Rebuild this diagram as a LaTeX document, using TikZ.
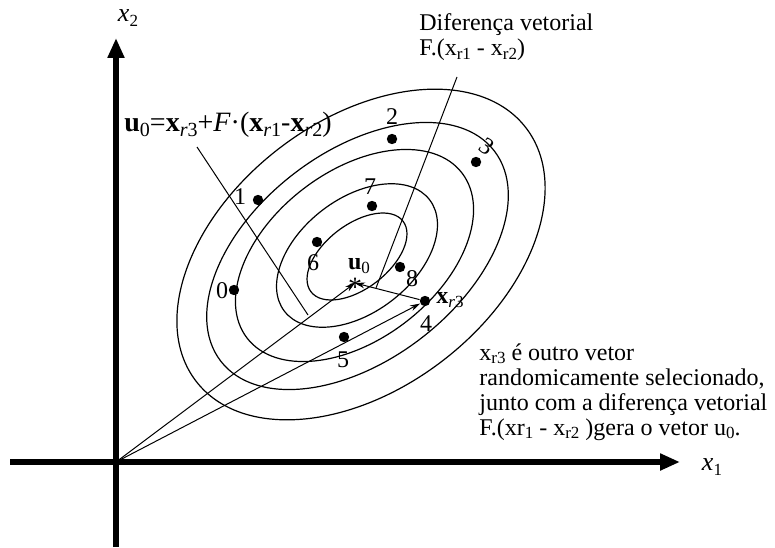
\documentclass[tikz,border=0pt]{standalone}
\usepackage{fontspec}
\setmainfont{Liberation Serif}
\usetikzlibrary{arrows.meta}
\newcommand\sbx[1]{\raisebox{-0.35ex}{\fontsize{8.5}{8.5}\selectfont #1}}
\newcommand\sbf[1]{\raisebox{-0.35ex}{\fontsize{10}{10}\selectfont #1}}
\begin{document}
\begin{tikzpicture}[x=0.5pt,y=0.5pt,
  axisline/.style={line width=2.6pt,-{Triangle[length=10pt,width=8pt]}},
  ell/.style={line width=0.6pt},
  thin/.style={line width=0.5pt},
  vec/.style={line width=0.5pt,-{Stealth[length=5pt,width=3pt]}},
  dotnode/.style={circle,fill=black,inner sep=0pt,minimum size=5.2pt},
  lbl/.style={font=\fontsize{12}{12}\selectfont,inner sep=0pt},
  txt/.style={font=\fontsize{12}{12.5}\selectfont,inner sep=0pt}]
\useasboundingbox (0,0) rectangle (775,547);
% axes
\coordinate (O) at (116,85);
\coordinate (axbot) at (116,0);
\coordinate (axtop) at (116,509);
\coordinate (axleft) at (10,85);
\coordinate (axright) at (680,85);
\draw[axisline] (axbot) -- (axtop);
\draw[axisline] (axleft) -- (axright);
\node[lbl,font=\fontsize{13}{13}\selectfont] (x2lab) at (128,529) {\textit{x}\sbx{2}};
\node[lbl,font=\fontsize{13}{13}\selectfont] (x1lab) at (712,80) {\textit{x}\sbx{1}};
% contour ellipses
\foreach \cx/\cy/\a/\b in {361/292.5/208/134, 357.5/291/172.5/104, 354.5/291.5/135.5/84, 357/291.5/91.5/57, 357/290.5/58/32}{
  \draw[ell,rotate around={37.5:(\cx,\cy)}] (\cx,\cy) ellipse [x radius=\a, y radius=\b];
}
% points
\node[dotnode] (p0) at (234,257) {};
\node[lbl] (l0) at (222,256) {0};
\node[dotnode] (p1) at (258,347) {};
\node[lbl] (l1) at (240,350) {1};
\node[dotnode] (p2) at (392,408) {};
\node[lbl] (l2) at (392,430) {2};
\node[dotnode] (p3) at (476,385) {};
\node[lbl,rotate=-35] (l3) at (487,400) {3};
\node[dotnode] (xr3) at (425,246) {};
\node[lbl] (l4) at (426,223) {4};
\node[lbl,anchor=west] (lxr3) at (436,247) {\textbf{x}\sbx{\textit{r}3}};
\node[dotnode] (p5) at (344,210) {};
\node[lbl] (l5) at (343,187) {5};
\node[dotnode] (p6) at (317,305) {};
\node[lbl] (l6) at (313,284) {6};
\node[dotnode] (p7) at (372,341) {};
\node[lbl] (l7) at (370,360) {7};
\node[dotnode] (p8) at (400,280) {};
\node[lbl] (l8) at (412,268) {8};
% u0
\coordinate (u0) at (355,264);
\node[lbl,font=\fontsize{14}{14}\selectfont] (star) at (355,260) {*};
\node[lbl] (lu0) at (359,281) {\textbf{u}\sbx{0}};
% vectors
\draw[vec] (O) -- (u0);
\draw[vec] (O) -- (xr3);
\draw[vec] (xr3) -- (u0);
% leaders
\coordinate (lu0a) at (197,400);
\coordinate (lu0b) at (308,232);
\draw[thin] (lu0a) -- (lu0b);
\coordinate (lfa) at (457,470);
\coordinate (lfb) at (376,259);
\draw[thin] (lfa) -- (lfb);
% texts
\node[txt,anchor=west] (dif1) at (419,522) {Diferença vetorial};
\node[txt,anchor=west] (dif2) at (419,497) {F.(x\sbx{r1} - x\sbx{r2})};
\node[txt,anchor=west,font=\fontsize{14}{14}\selectfont] (form) at (124,422) {\textbf{u}\sbf{0}=\textbf{x}\sbf{\textit{r}3}+\textit{F}·(\textbf{x}\sbf{\textit{r}1}-\textbf{x}\sbf{\textit{r}2})};
\node[txt,anchor=north west,align=left] (body) at (479,204) {x\sbx{r3} é outro vetor\\randomicamente selecionado,\\junto com a diferença vetorial\\F.(xr\sbx{1} - x\sbx{r2} )gera o vetor u\sbx{0}.};
\end{tikzpicture}
\end{document}
